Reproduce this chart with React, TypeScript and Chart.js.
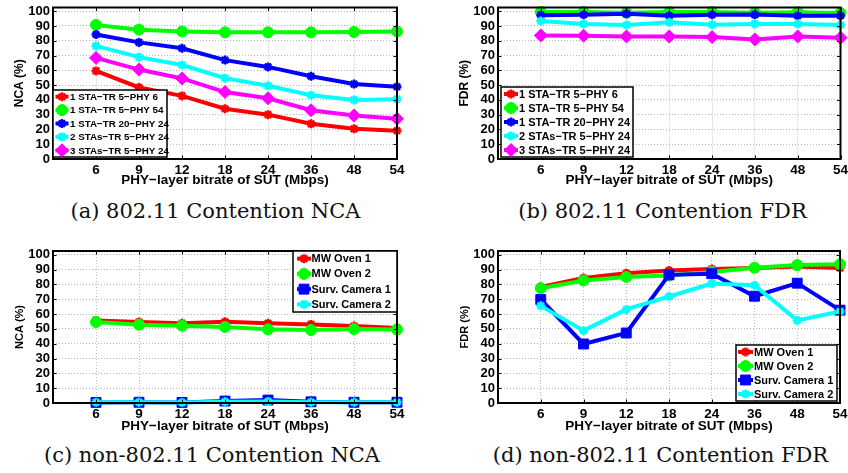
import React, { useEffect, useRef } from 'react';
import { Chart, registerables } from 'chart.js';
import { drawPoint } from 'chart.js/helpers';

Chart.register(...registerables);
Chart.defaults.font.family = '"Liberation Sans", Arial, Helvetica, sans-serif';
Chart.defaults.color = '#000';

// ---------- data ----------
const bitrates = ['6', '9', '12', '18', '24', '36', '48', '54'];

const contentionLabels = [
  '1 STA\u2212TR 5\u2212PHY 6',
  '1 STA\u2212TR 5\u2212PHY 54',
  '1 STA\u2212TR 20\u2212PHY 24',
  '2 STAs\u2212TR 5\u2212PHY 24',
  '3 STAs\u2212TR 5\u2212PHY 24',
];
const nonContentionLabels = ['MW Oven 1', 'MW Oven 2', 'Surv. Camera 1', 'Surv. Camera 2'];

// (a) 802.11 Contention NCA
const ncaA_sta1_tr5_phy6 = [59.6, 48.4, 42.7, 34.0, 30.0, 23.8, 20.4, 19.1];
const ncaA_sta1_tr5_phy54 = [90.7, 87.5, 86.3, 85.7, 85.7, 85.7, 85.9, 86.3];
const ncaA_sta1_tr20_phy24 = [84.2, 78.9, 74.9, 66.9, 62.3, 56.0, 50.7, 48.9];
const ncaA_sta2_tr5_phy24 = [76.5, 68.9, 63.6, 54.7, 49.5, 43.1, 40.0, 40.5];
const ncaA_sta3_tr5_phy24 = [68.4, 60.5, 54.5, 45.3, 41.1, 33.0, 29.4, 27.2];

// (b) 802.11 Contention FDR
const fdrB_sta1_tr5_phy6 = [98.5, 98.5, 98.5, 98.2, 98.4, 97.9, 97.6, 97.5];
const fdrB_sta1_tr5_phy54 = [99.5, 99.5, 99.0, 99.4, 99.4, 99.0, 99.3, 98.7];
const fdrB_sta1_tr20_phy24 = [97.3, 97.6, 98.2, 96.9, 97.6, 97.7, 96.9, 96.9];
const fdrB_sta2_tr5_phy24 = [93.4, 91.3, 90.7, 92.5, 90.8, 91.4, 91.3, 90.7];
const fdrB_sta3_tr5_phy24 = [83.6, 83.4, 82.9, 82.9, 82.5, 80.9, 82.9, 82.1];

// (c) non-802.11 Contention NCA
const ncaC_oven1 = [55.7, 54.6, 53.7, 54.8, 53.7, 53.0, 51.9, 50.6];
const ncaC_oven2 = [54.6, 52.8, 52.1, 51.3, 49.7, 49.2, 49.9, 49.6];
const ncaC_camera1 = [0.4, 0.5, 0.4, 1.3, 2.0, 0.8, 0.5, 0.5];
const ncaC_camera2 = [0.5, 0.5, 0.3, 0.8, 1.0, 0.5, 0.5, 0.5];

// (d) non-802.11 Contention FDR
const fdrD_oven1 = [78.3, 84.3, 87.5, 89.3, 90.4, 91.0, 92.0, 91.0];
const fdrD_oven2 = [77.4, 82.6, 85.0, 86.0, 88.4, 91.2, 93.0, 93.6];
const fdrD_camera1 = [69.8, 39.8, 47.2, 86.4, 87.2, 72.0, 80.8, 62.6];
const fdrD_camera2 = [65.5, 48.8, 63.1, 71.8, 80.5, 79.4, 55.7, 61.7];

const yTicks = [0, 10, 20, 30, 40, 50, 60, 70, 80, 90, 100];

// ---------- styles ----------
const contentionStyles = [
  { color: '#ff0000', pointStyle: 'star', radius: 4.5, pbw: 2.5 },
  { color: '#00ff00', pointStyle: 'circle', radius: 5.5, pbw: 1 },
  { color: '#0000ff', pointStyle: 'star', radius: 4.5, pbw: 2.5 },
  { color: '#00ffff', pointStyle: 'star', radius: 4.5, pbw: 2.5 },
  { color: '#ff00ff', pointStyle: 'rectRot', radius: 6.5, pbw: 1 },
];
const nonContentionStyles = [
  { color: '#ff0000', pointStyle: 'star', radius: 4.5, pbw: 2.5 },
  { color: '#00ff00', pointStyle: 'circle', radius: 5.5, pbw: 1 },
  { color: '#0000ff', pointStyle: 'rect', radius: 7, pbw: 1 },
  { color: '#00ffff', pointStyle: 'star', radius: 4.5, pbw: 2.5 },
];

type Legend = {
  anchor: 'bl' | 'tr' | 'br';
  dx: number; dy: number; w: number; h: number;
  font: number; lineStart: number; lineEnd: number; textX: number;
};

type PanelCfg = {
  left: number; top: number; w: number; h: number;
  area: { l: number; r: number; t: number; b: number };
  yTitle: string; yTitleX: number; yTitleSize: number;
  xTitleY: number;
  labels: string[]; series: number[][]; styles: any[];
  legend: Legend;
};

const panels: PanelCfg[] = [
  {
    left: 0, top: 0, w: 424, h: 195,
    area: { l: 53, r: 397, t: 6, b: 159 },
    yTitle: 'NCA (%)', yTitleX: 19.5, yTitleSize: 12, xTitleY: 180,
    labels: contentionLabels,
    series: [ncaA_sta1_tr5_phy6, ncaA_sta1_tr5_phy54, ncaA_sta1_tr20_phy24, ncaA_sta2_tr5_phy24, ncaA_sta3_tr5_phy24],
    styles: contentionStyles,
    legend: { anchor: 'bl', dx: 0, dy: 2, w: 114, h: 67, font: 9.8, lineStart: 2.5, lineEnd: 15.5, textX: 17 },
  },
  {
    left: 424, top: 0, w: 424, h: 195,
    area: { l: 74, r: 418, t: 6, b: 159 },
    yTitle: 'FDR (%)', yTitleX: 41, yTitleSize: 12, xTitleY: 180,
    labels: contentionLabels,
    series: [fdrB_sta1_tr5_phy6, fdrB_sta1_tr5_phy54, fdrB_sta1_tr20_phy24, fdrB_sta2_tr5_phy24, fdrB_sta3_tr5_phy24],
    styles: contentionStyles,
    legend: { anchor: 'bl', dx: 3, dy: 2, w: 132, h: 70, font: 11, lineStart: 3, lineEnd: 17, textX: 18 },
  },
  {
    left: 0, top: 240, w: 424, h: 200,
    area: { l: 53, r: 397, t: 11, b: 163 },
    yTitle: 'NCA (%)', yTitleX: 19.5, yTitleSize: 11, xTitleY: 186,
    labels: nonContentionLabels,
    series: [ncaC_oven1, ncaC_oven2, ncaC_camera1, ncaC_camera2],
    styles: nonContentionStyles,
    legend: { anchor: 'tr', dx: 0, dy: 0, w: 104, h: 61, font: 11, lineStart: 4, lineEnd: 18, textX: 18.5 },
  },
  {
    left: 424, top: 240, w: 424, h: 200,
    area: { l: 74, r: 418, t: 11, b: 163 },
    yTitle: 'FDR (%)', yTitleX: 41, yTitleSize: 11, xTitleY: 186,
    labels: nonContentionLabels,
    series: [fdrD_oven1, fdrD_oven2, fdrD_camera1, fdrD_camera2],
    styles: nonContentionStyles,
    legend: { anchor: 'br', dx: 3, dy: 2, w: 101, h: 56, font: 11, lineStart: 2, lineEnd: 17, textX: 18 },
  },
];

const captions = [
  { text: '(a) 802.11 Contention NCA', cx: 215.5, top: 198.5 },
  { text: '(b) 802.11 Contention FDR', cx: 662.5, top: 198.5 },
  { text: '(c) non-802.11 Contention NCA', cx: 212, top: 443 },
  { text: '(d) non-802.11 Contention FDR', cx: 660.5, top: 443 },
];

function Panel({ cfg }: { cfg: PanelCfg }) {
  const ref = useRef<HTMLCanvasElement | null>(null);

  useEffect(() => {
    const canvas = ref.current;
    if (!canvas) return;
    const n = cfg.series.length;
    const datasets = cfg.series.map((vals, i) => {
      const st = cfg.styles[i];
      return {
        label: cfg.labels[i],
        data: vals.map((v, k) => ({ x: k + 1, y: v })),
        borderColor: st.color,
        backgroundColor: st.color,
        borderWidth: 4,
        pointStyle: st.pointStyle,
        pointRadius: st.radius,
        pointBackgroundColor: st.color,
        pointBorderColor: st.color,
        pointBorderWidth: st.pbw,
        tension: 0,
        clip: false,
        order: n - i,
      };
    });

    const framePlugin = {
      id: 'frameAndLegend',
      afterDraw(chart: any) {
        const { ctx, chartArea: ca } = chart;
        const xs = chart.scales.x;
        const ys = chart.scales.y;
        ctx.save();
        // inward tick marks
        ctx.strokeStyle = '#000';
        ctx.lineWidth = 1;
        ctx.beginPath();
        for (let v = 1; v <= bitrates.length; v++) {
          const px = Math.round(xs.getPixelForValue(v)) + 0.5;
          ctx.moveTo(px, ca.bottom); ctx.lineTo(px, ca.bottom - 3.5);
          ctx.moveTo(px, ca.top); ctx.lineTo(px, ca.top + 3.5);
        }
        for (const v of yTicks) {
          const py = Math.round(ys.getPixelForValue(v)) + 0.5;
          ctx.moveTo(ca.left, py); ctx.lineTo(ca.left + 3.5, py);
          ctx.moveTo(ca.right, py); ctx.lineTo(ca.right - 3.5, py);
        }
        ctx.stroke();
        // frame
        ctx.lineWidth = 2;
        ctx.strokeRect(ca.left, ca.top, ca.right - ca.left, ca.bottom - ca.top);

        // legend
        const lg = cfg.legend;
        let x = 0, y = 0;
        if (lg.anchor === 'bl') { x = ca.left + lg.dx; y = ca.bottom - lg.dy - lg.h; }
        else if (lg.anchor === 'tr') { x = ca.right - lg.dx - lg.w; y = ca.top + lg.dy; }
        else { x = ca.right - lg.dx - lg.w; y = ca.bottom - lg.dy - lg.h; }
        ctx.fillStyle = '#fff';
        ctx.fillRect(x, y, lg.w, lg.h);
        ctx.strokeStyle = '#000';
        ctx.lineWidth = 1.5;
        ctx.strokeRect(x, y, lg.w, lg.h);
        const ds = chart.data.datasets;
        ds.forEach((d: any, i: number) => {
          const cy = y + (i + 0.5) * lg.h / ds.length;
          ctx.strokeStyle = d.borderColor;
          ctx.lineWidth = 4;
          ctx.beginPath();
          ctx.moveTo(x + lg.lineStart, cy);
          ctx.lineTo(x + lg.lineEnd, cy);
          ctx.stroke();
          ctx.fillStyle = d.pointBackgroundColor;
          ctx.strokeStyle = d.pointBorderColor;
          ctx.lineWidth = d.pointBorderWidth;
          drawPoint(ctx, { pointStyle: d.pointStyle, radius: d.pointRadius, borderWidth: d.pointBorderWidth, rotation: 0 }, x + (lg.lineStart + lg.lineEnd) / 2, cy);
          ctx.fillStyle = '#000';
          ctx.font = `bold ${lg.font}px "Liberation Sans", Arial, sans-serif`;
          ctx.textBaseline = 'middle';
          ctx.textAlign = 'left';
          ctx.fillText(d.label, x + lg.textX, cy + 0.5);
        });
        ctx.restore();
      },
    };

    const gridColor = '#b8b8b8';
    const chart = new Chart(canvas, {
      type: 'line',
      data: { datasets },
      plugins: [framePlugin],
      options: {
        responsive: false,
        animation: false,
        events: [],
        layout: {
          padding: { left: 0, top: cfg.area.t, right: cfg.w - cfg.area.r, bottom: 0 },
        },
        plugins: {
          legend: { display: false },
          tooltip: { enabled: false },
        },
        scales: {
          x: {
            type: 'linear',
            min: 0,
            max: bitrates.length,
            afterFit: (s: any) => {
              s.height = cfg.h - cfg.area.b;
              s.paddingLeft = 0; s.paddingRight = 0;
            },
            ticks: {
              stepSize: 1,
              autoSkip: false,
              maxTicksLimit: 20,
              maxRotation: 0,
              includeBounds: false,
              padding: 3,
              font: { size: 13.5, weight: 'bold' },
              color: '#000',
              callback: (v: any) => (v >= 1 && v <= bitrates.length ? bitrates[v - 1] : ''),
            },
            grid: {
              drawTicks: false,
              lineWidth: 1,
              color: (c: any) => (c.tick && (c.tick.value === 0 || c.tick.value === bitrates.length) ? 'rgba(0,0,0,0)' : gridColor),
            },
            border: { display: false, dash: [1, 2] },
            title: {
              display: true,
              text: 'PHY\u2212layer bitrate of SUT (Mbps)',
              font: { size: 13.5, weight: 'bold' },
              color: '#000',
              padding: { top: 0, bottom: cfg.h - cfg.xTitleY - 13.5 * 1.2 / 2 },
            },
          },
          y: {
            type: 'linear',
            min: 0,
            max: 102.5,
            afterFit: (s: any) => {
              s.width = cfg.area.l;
              s.paddingTop = 0; s.paddingBottom = 0;
            },
            ticks: {
              stepSize: 10,
              autoSkip: false,
              maxTicksLimit: 20,
              includeBounds: false,
              padding: 3,
              font: { size: 13, weight: 'bold', lineHeight: 1 },
              color: '#000',
            },
            grid: {
              drawTicks: false,
              lineWidth: 1,
              color: (c: any) => (c.tick && c.tick.value === 0 ? 'rgba(0,0,0,0)' : gridColor),
            },
            border: { display: false, dash: [1, 2] },
            title: {
              display: true,
              text: cfg.yTitle,
              font: { size: cfg.yTitleSize, weight: 'bold' },
              color: '#000',
              padding: { top: cfg.yTitleX - cfg.yTitleSize * 1.2 / 2, bottom: 0 },
            },
          },
        },
      } as any,
    });
    return () => chart.destroy();
  }, [cfg]);

  return (
    <canvas
      ref={ref}
      width={cfg.w}
      height={cfg.h}
      style={{ position: 'absolute', left: cfg.left, top: cfg.top, width: cfg.w, height: cfg.h }}
    />
  );
}

export default function App() {
  return (
    <div style={{ position: 'absolute', left: 0, top: 0, width: 848, height: 473, background: '#fff', overflow: 'hidden' }}>
      {panels.map((p, i) => (
        <Panel key={i} cfg={p} />
      ))}
      {captions.map((c, i) => (
        <div
          key={'cap' + i}
          style={{
            position: 'absolute',
            left: c.cx - 212,
            top: c.top,
            width: 424,
            textAlign: 'center',
            fontFamily: '"DejaVu Serif", serif',
            fontSize: 21,
            lineHeight: '24px',
            color: '#111',
            whiteSpace: 'nowrap',
          }}
        >
          {c.text}
        </div>
      ))}
    </div>
  );
}
